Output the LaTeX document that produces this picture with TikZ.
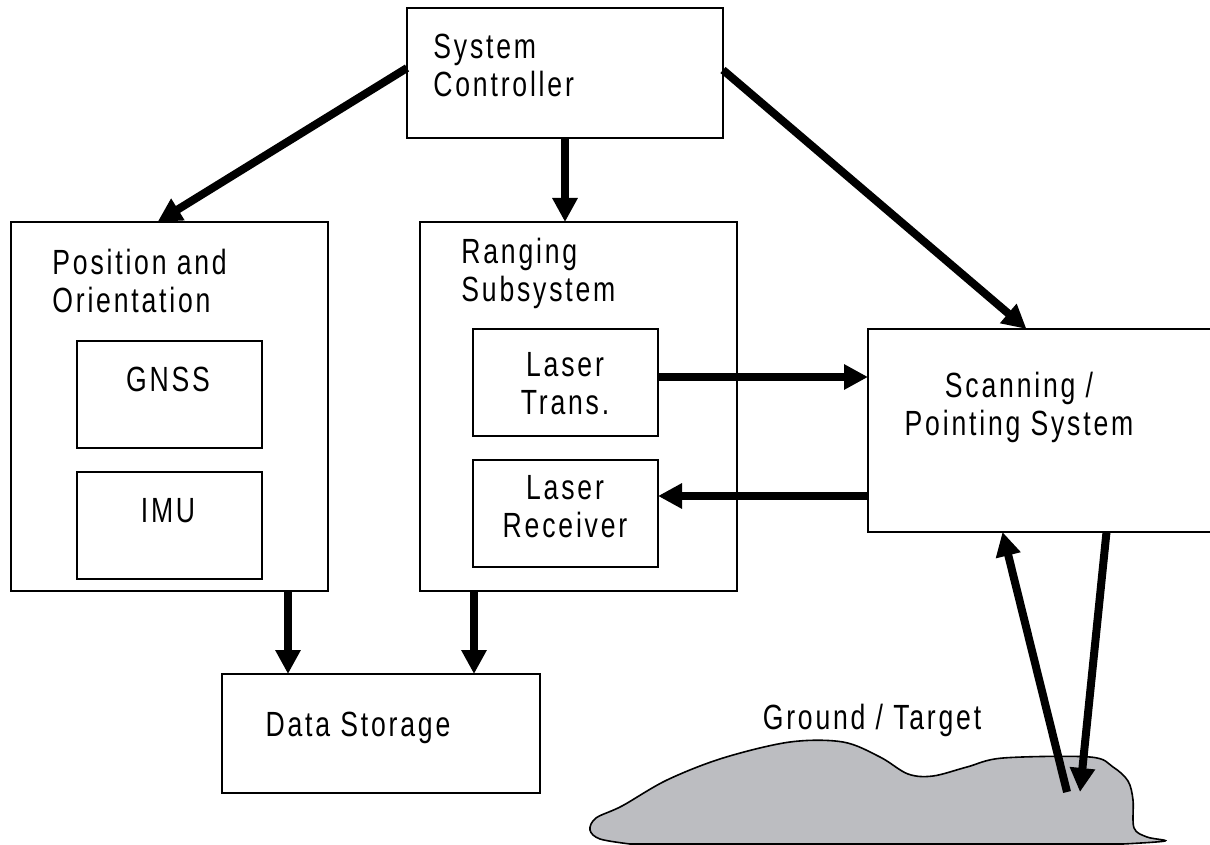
\documentclass[tikz,border=0pt]{standalone}
\usepackage{fontspec}
\setmainfont{Liberation Sans}[FakeStretch=0.76,LetterSpace=8]
\usetikzlibrary{arrows.meta,positioning}
\definecolor{groundgray}{RGB}{188,189,193}

\begin{document}
\begin{tikzpicture}[x=0.5pt,y=-0.5pt,font=\fontsize{17.5pt}{19pt}\selectfont]
\tikzset{blk/.style={draw,line width=1pt,inner sep=0pt,outer sep=0pt},
  big/.style={blk,minimum width=158.5pt,minimum height=184.5pt},
  small/.style={blk,minimum width=92.5pt,minimum height=53.5pt},
  txt/.style={inner sep=0pt,align=left},
  arr/.style={line width=4pt,-{Triangle[width=12pt,length=12pt]}}}
\useasboundingbox (0,0) rectangle (1210,845);
% ground patch under the scanner
\draw[fill=groundgray,line width=0.8pt] plot[smooth,tension=0.55] coordinates {(1123,844) (1165,841) (1147,837) (1134,828) (1133,800) (1128,781) (1113,767) (1090,757) (1003,758) (967,767) (933,776) (908,774) (880,757) (843,742) (790,742) (723,758) (667,780) (622,806) (596,818) (590,830) (600,839) (630,844)} -- cycle;
\node[blk,minimum width=158pt,minimum height=65pt] (sc) at (565,73) {};
\node[big] (pos) at (169.5,406.5) {};
\node[big,right=46pt of pos] (rng) {};
\node[small] (gnss) at (169.5,394.5) {};
\node[small,below=12pt of gnss] (imu) {};
\node[small] (trans) at (565.5,382.5) {};
\node[small,below=12pt of trans] (recv) {};
\node[blk,minimum width=172.5pt,minimum height=101.5pt] (scan) at (1040.5,430.5) {};
\node[blk,minimum width=159pt,minimum height=59.5pt] (store) at (381,733.5) {};
\node[txt,anchor=north west] (sctxt) at (433,34) {System\\Controller};
\node[txt,anchor=north west] (postxt) at (52,249) {Position and\\Orientation};
\node[txt,anchor=north west] (rngtxt) at (461,238) {Ranging\\Subsystem};
\node[txt,anchor=north] (gnsstxt) at (168,367) {GNSS};
\node[txt,anchor=north] (imutxt) at (168,498) {IMU};
\node[txt,anchor=north,align=center] (transtxt) at (565,352) {Laser\\Trans.};
\node[txt,anchor=north,align=center] (recvtxt) at (565,475) {Laser\\Receiver};
\node[txt,anchor=north,align=center] (scantxt) at (1019,372) {Scanning /\\Pointing System};
\node[txt,anchor=north] (storetxt) at (358,712) {Data Storage};
\node[txt,anchor=north] (groundtxt) at (872,704) {Ground / Target};
\coordinate (bounce) at (1067,792);
\coordinate (spot) at (1080,792);
\draw[arr] ([yshift=2.5pt]sc.west) -- ([xshift=-6pt]pos.north);
\draw[arr] (sc.south) -- (sc.south |- rng.north);
\draw[arr] ([yshift=1.5pt]sc.east) -- ([xshift=-7pt]scan.north);
\draw[arr] ([yshift=2.75pt]trans.east) -- ([yshift=2.75pt]trans.east -| scan.west);
\draw[arr] ([yshift=8.75pt]recv.east -| scan.west) -- ([yshift=8.75pt]recv.east);
\draw[arr] ([xshift=-20pt]pos.south east) -- ([xshift=-20pt]pos.south east |- store.north);
\draw[arr] ([xshift=27pt]rng.south west) -- ([xshift=27pt]rng.south west |- store.north);
\draw[arr] (bounce) -- ([xshift=-19pt]scan.south);
\draw[arr] ([xshift=33pt]scan.south) -- (spot);
\end{tikzpicture}
\end{document}
